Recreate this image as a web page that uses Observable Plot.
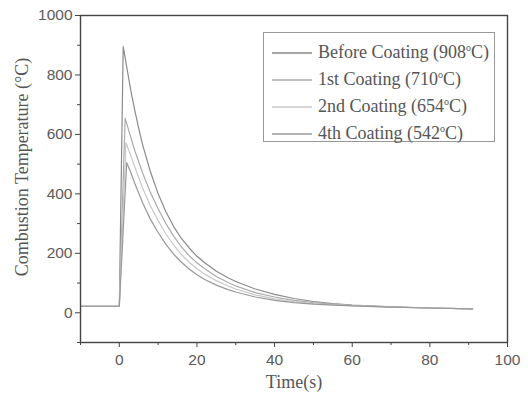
<!DOCTYPE html>
<html>
<head>
<meta charset="utf-8">
<script src="https://cdn.jsdelivr.net/npm/d3@7"></script>
<script src="https://cdn.jsdelivr.net/npm/@observablehq/plot@0.6"></script>
<style>
  html, body { margin: 0; padding: 0; background: #fff; }
  #wrap { position: relative; width: 528px; height: 400px; }
  #legend {
    position: absolute; left: 263px; top: 32px; width: 232px; height: 110px;
    border: 1px solid #999; box-sizing: border-box; padding-top: 6px;
    font-family: "Liberation Serif", "Times New Roman", serif; font-size: 18px; color: #555;
  }
  .item { display: flex; align-items: center; height: 27px; white-space: nowrap; }
  .item svg { margin-left: 8px; margin-right: 6px; }
  sup { font-size: 10px; vertical-align: 7px; line-height: 0; }
</style>
</head>
<body>
<div id="wrap"></div>
<script>
// Series names and legend peak temperatures
const seriesNames = ["Before Coating", "1st Coating", "2nd Coating", "4th Coating"];
const legendTemps = [908, 710, 654, 542];
const seriesColors = ["#8a8a8a", "#ababab", "#c8c8c8", "#999999"];

// Time (s) and temperature (°C)
const timeBefore = [-10, 0, 1.0, 2, 3, 4, 5, 6, 8, 10, 12, 14, 16, 18, 20, 22, 25, 28, 30, 35, 40, 45, 50, 55, 60, 70, 80, 91];
const tempBefore = [22, 22, 895, 820, 745, 680, 620, 565, 475, 400, 340, 290, 250, 218, 190, 168, 140, 118, 105, 80, 62, 48, 38, 31, 26, 20, 16, 13];

const time1st = [-10, 0, 1.5, 2.5, 4, 6, 8, 10, 12, 14, 16, 18, 20, 22, 25, 28, 30, 35, 40, 45, 50, 55, 60, 70, 80, 91];
const temp1st = [22, 22, 655, 610, 545, 470, 405, 350, 300, 258, 222, 192, 168, 148, 122, 102, 90, 68, 53, 42, 34, 29, 25, 20, 16, 13];

const time2nd = [-10, 0, 1.7, 2.5, 4, 6, 8, 10, 12, 14, 16, 18, 20, 22, 25, 28, 30, 35, 40, 45, 50, 55, 60, 70, 80, 91];
const temp2nd = [22, 22, 572, 545, 490, 420, 360, 310, 265, 228, 196, 170, 148, 130, 108, 90, 80, 60, 47, 38, 31, 27, 24, 19, 16, 13];

const time4th = [-10, 0, 1.9, 3, 4, 6, 8, 10, 12, 14, 16, 18, 20, 22, 25, 28, 30, 35, 40, 45, 50, 55, 60, 70, 80, 91];
const temp4th = [22, 22, 505, 470, 435, 370, 315, 270, 230, 197, 170, 147, 128, 112, 93, 78, 70, 53, 42, 34, 29, 26, 23, 19, 16, 13];

const xMajor = [0, 20, 40, 60, 80, 100];
const xMinor = [-10, 10, 30, 50, 70, 90];
const yMajor = [0, 200, 400, 600, 800, 1000];
const yMinor = [-100, 100, 300, 500, 700, 900];

const seriesTimes = [timeBefore, time1st, time2nd, time4th];
const seriesTemps = [tempBefore, temp1st, temp2nd, temp4th];
const data = seriesNames.flatMap((name, i) =>
  seriesTimes[i].map((t, j) => ({series: name, t, v: seriesTemps[i][j]})));

const sans = "'Liberation Sans', Arial, sans-serif";
const serif = "'Liberation Serif', 'Times New Roman', serif";

const chart = Plot.plot({
  width: 528,
  height: 400,
  marginLeft: 80,
  marginTop: 15,
  marginRight: 21,
  marginBottom: 58,
  style: {fontFamily: sans, fontSize: "15px", color: "#444", background: "#fff"},
  x: {domain: [-10, 100]},
  y: {domain: [-100, 1000]},
  color: {domain: seriesNames, range: seriesColors},
  marks: [
    Plot.line(data, {x: "t", y: "v", z: "series", stroke: "series", strokeWidth: 1.2}),
    Plot.frame({stroke: "#444", strokeWidth: 1.4}),
    Plot.axisX({ticks: xMajor, tickSize: 5, tickPadding: 6, tickFormat: d => String(d), label: null, stroke: "#444", fill: "#5a5a5a", fontSize: 15.5}),
    Plot.axisX({ticks: xMinor, tickSize: 3, text: null, label: null, stroke: "#444"}),
    Plot.axisY({ticks: yMajor, tickSize: 5, tickPadding: 3, tickFormat: d => String(d), label: null, stroke: "#444", fill: "#5a5a5a", fontSize: 15.5}),
    Plot.axisY({ticks: yMinor, tickSize: 3, text: null, label: null, stroke: "#444"}),
    Plot.text(["Time(s)"], {frameAnchor: "bottom", dy: 45, fontFamily: serif, fontSize: 18, fill: "#555"}),
    Plot.text(["Combustion Temperature (°C)"], {frameAnchor: "left", textAnchor: "middle", dx: -58, dy: -12, rotate: -90, fontFamily: serif, fontSize: 18, fill: "#555"})
  ]
});

const wrap = document.getElementById("wrap");
wrap.appendChild(chart);

const legend = document.createElement("div");
legend.id = "legend";
seriesNames.forEach((name, i) => {
  const item = document.createElement("div");
  item.className = "item";
  item.innerHTML = `<svg width="40" height="4"><line x1="0" x2="40" y1="2" y2="2" stroke="${seriesColors[i]}" stroke-width="1.5"/></svg><span>${name} (${legendTemps[i]}<sup>o</sup>C)</span>`;
  legend.appendChild(item);
});
wrap.appendChild(legend);
</script>
</body>
</html>
